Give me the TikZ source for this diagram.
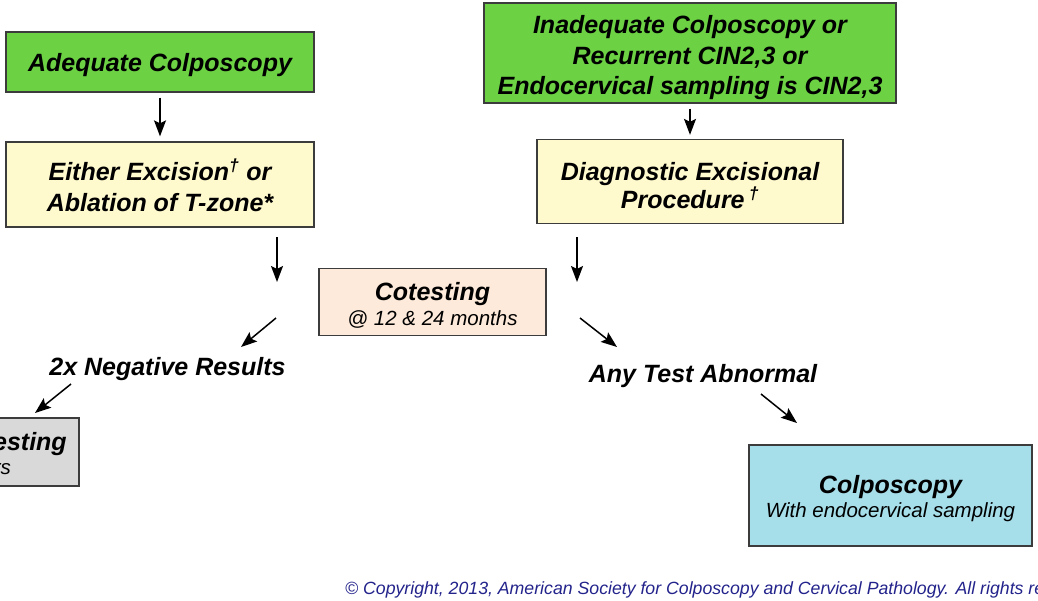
\documentclass[tikz,border=0pt]{standalone}
\usepackage{fontspec}
\setmainfont{Liberation Sans}
\usetikzlibrary{arrows.meta}
\definecolor{grn}{RGB}{108,210,68}
\definecolor{ylw}{RGB}{255,249,206}
\definecolor{pch}{RGB}{253,234,218}
\definecolor{blu}{RGB}{166,222,234}
\definecolor{gry}{RGB}{217,217,217}
\definecolor{navy}{RGB}{35,35,140}
\definecolor{edge}{RGB}{60,60,60}
\newcommand{\bigf}{\bfseries\itshape\fontsize{25}{30.5}\selectfont}
\newcommand{\smallf}{\mdseries\itshape\fontsize{20.5}{24}\selectfont}
\begin{document}
\begin{tikzpicture}[x=1pt,y=-1pt,
  box/.style={draw=edge, line width=1.3pt, inner sep=0pt},
  txt/.style={inner sep=0pt, align=center, font=\bigf},
  lbl/.style={inner sep=0pt, font=\bigf},
  arr/.style={-{Stealth[length=16pt,width=12pt,inset=3pt]}, line width=1.5pt}]
\useasboundingbox (0,0) rectangle (1038,600);
\clip (0,0) rectangle (1038,600);
\fill[white] (0,0) rectangle (1038,600);
% boxes
\node[box, fill=grn, minimum width=308pt, minimum height=60pt] (adeq) at (160,62) {};
\node[txt] (adeqt) at ([yshift=-3pt]adeq.center) {Adequate Colposcopy};
\node[box, fill=ylw, minimum width=308pt, minimum height=85pt] (either) at (160,184.5) {};
\node[txt] (eithert) at ([yshift=-1pt]either.center) {Either Excision\textsuperscript{†} or\\Ablation of T-zone*};
\node[box, fill=grn, minimum width=412pt, minimum height=100pt] (inad) at (690,53) {};
\node[txt] (inadt) at ([yshift=-5pt]inad.center) {Inadequate Colposcopy or\\Recurrent CIN2,3 or\\Endocervical sampling is CIN2,3};
\node[box, fill=ylw, minimum width=306pt, minimum height=84pt] (diag) at (690,181.5) {};
\node[txt] (diagt) at ([yshift=-4pt]diag.center) {Diagnostic Excisional\\[-2pt]Procedure\,\textsuperscript{†}};
\node[box, fill=pch, minimum width=227pt, minimum height=67pt] (cotest) at (432.5,302) {};
\node[txt] (cotestt) at ([yshift=-3.5pt]cotest.center) {Cotesting\\[-6pt]{\smallf @ 12 \& 24 months}};
\node[box, fill=gry, minimum width=230pt, minimum height=68pt] (repeat) at (-36,452) {};
\node[txt] (repeatt) at ([yshift=-3.5pt]repeat.center) {Repeat Cotesting\\[-6pt]{\smallf @ 3 years}};
\node[box, fill=blu, minimum width=283pt, minimum height=101pt] (colpo) at (890.5,495.5) {};
\node[txt] (colpot) at ([yshift=-3pt]colpo.center) {Colposcopy\\[-6pt]{\smallf With endocervical sampling}};
% labels
\node[lbl] (neg) at (167.5,369) {2x Negative Results};
\node[lbl] (abn) at (703,376) {Any Test Abnormal};
\node[inner sep=0pt, anchor=west, text=navy, font=\itshape\fontsize{17.7}{20}\selectfont] (copy) at (345,590) {© Copyright, 2013, American Society for Colposcopy and Cervical Pathology. All rights reserved.};
% free ends
\coordinate (e1) at (277,237);
\coordinate (e2) at (277,282);
\coordinate (d1) at (577,237);
\coordinate (d2) at (577,282);
\coordinate (n1) at (276,318);
\coordinate (n2) at (241,347);
\coordinate (g1) at (71,384);
\coordinate (g2) at (35,413);
\coordinate (a1) at (580,318);
\coordinate (a2) at (617,347);
\coordinate (c1) at (761,394);
\coordinate (c2) at (797,423);
% connectors
\draw[arr, shorten <=5pt, shorten >=5pt] (adeq) -- (either);
\draw[arr, shorten <=5pt, shorten >=4pt] (inad) -- (diag);
\draw[arr] (e1) -- (e2);
\draw[arr] (d1) -- (d2);
\draw[arr] (n1) -- (n2);
\draw[arr] (g1) -- (g2);
\draw[arr] (a1) -- (a2);
\draw[arr] (c1) -- (c2);
\end{tikzpicture}
\end{document}
